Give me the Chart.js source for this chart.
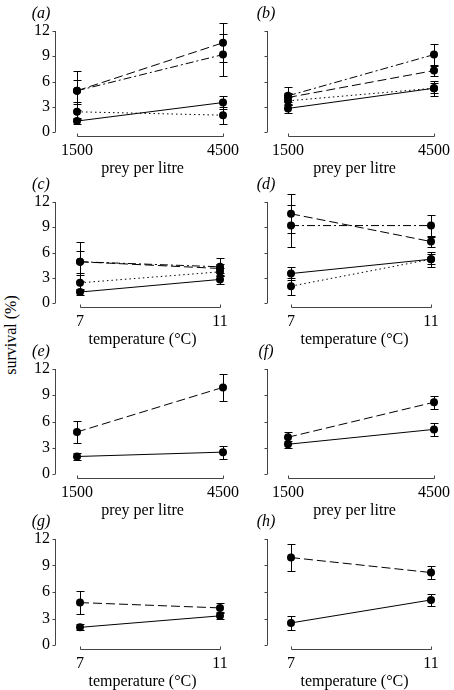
<!DOCTYPE html>
<html>
<head>
<meta charset="utf-8">
<script src="https://cdn.jsdelivr.net/npm/chart.js@4.4.1/dist/chart.umd.min.js"></script>
<style>
  html, body { margin: 0; padding: 0; background: #fff; }
  #wrap { position: relative; width: 454px; height: 690px; overflow: hidden; }
  canvas { position: absolute; }
  #ylab { position: absolute; left: 11px; top: 335px; transform: translate(-50%, -50%) rotate(-90deg);
          font: 16px 'Liberation Serif', serif; white-space: nowrap; color: #000; }
</style>
</head>
<body>
<div id="wrap">
  <div id="ylab">survival (%)</div>
</div>
<script>
// x levels and y ticks
const preyLevels = [1500, 4500];
const tempLevels = [7, 11];
const yTicks = [0, 3, 6, 9, 12];

// series order: solid, long dash, dash-dot, dotted
// (a) prey per litre at 7 C
const meanA = [[1.3, 3.5], [4.9, 10.6], [4.9, 9.2], [2.4, 2.0]];
const errA  = [[0.35, 0.8], [1.3, 2.3], [2.3, 2.5], [0.9, 1.0]];
// (b) prey per litre at 11 C
const meanB = [[2.8, 5.2], [4.1, 7.3], [4.3, 9.2], [3.7, 5.2]];
const errB  = [[0.5, 0.6], [0.5, 0.6], [1.1, 1.2], [0.5, 0.9]];
// (c) temperature at 1500 prey
const meanC = [[1.3, 2.8], [4.9, 4.1], [4.9, 4.3], [2.4, 3.7]];
const errC  = [[0.35, 0.5], [1.3, 0.5], [2.3, 1.1], [0.9, 0.5]];
// (d) temperature at 4500 prey
const meanD = [[3.5, 5.2], [10.6, 7.3], [9.2, 9.2], [2.0, 5.2]];
const errD  = [[0.8, 0.6], [2.3, 0.6], [2.5, 1.2], [1.0, 0.9]];
// (e)-(h): solid, long dash
const meanE = [[2.0, 2.5], [4.8, 9.9]];
const errE  = [[0.35, 0.75], [1.3, 1.55]];
const meanF = [[3.4, 5.1], [4.2, 8.2]];
const errF  = [[0.4, 0.7], [0.65, 0.75]];
const meanG = [[2.0, 3.3], [4.8, 4.2]];
const errG  = [[0.35, 0.4], [1.3, 0.6]];
const meanH = [[2.5, 5.1], [9.9, 8.2]];
const errH  = [[0.75, 0.7], [1.55, 0.75]];

const dashes = [[], [9, 4], [8, 3, 2, 3], [1.5, 3]];

Chart.defaults.font.family = "'Liberation Serif', 'Times New Roman', serif";
Chart.defaults.font.size = 16;
Chart.defaults.color = '#000';

// layout: pixel rows (y of 12 and 0) and columns
const rows = [
  { y12: 31, y0: 132 },
  { y12: 202, y0: 303 },
  { y12: 369, y0: 474 },
  { y12: 539, y0: 645 }
];
const cols = [
  { left: 0, width: 250, axis: 55, right: 230, tagDx: -14, labels: true,
    prey: [77, 223], temp: [80, 220] },
  { left: 230, width: 224, axis: 267, right: 442, tagDx: -1, labels: false,
    prey: [288, 434], temp: [291, 431] }
];

const panels = [
  { tag: 'a', row: 0, col: 0, xs: preyLevels, means: meanA, errs: errA, title: 'prey per litre' },
  { tag: 'b', row: 0, col: 1, xs: preyLevels, means: meanB, errs: errB, title: 'prey per litre' },
  { tag: 'c', row: 1, col: 0, xs: tempLevels, means: meanC, errs: errC, title: 'temperature (\u00B0C)' },
  { tag: 'd', row: 1, col: 1, xs: tempLevels, means: meanD, errs: errD, title: 'temperature (\u00B0C)' },
  { tag: 'e', row: 2, col: 0, xs: preyLevels, means: meanE, errs: errE, title: 'prey per litre' },
  { tag: 'f', row: 2, col: 1, xs: preyLevels, means: meanF, errs: errF, title: 'prey per litre' },
  { tag: 'g', row: 3, col: 0, xs: tempLevels, means: meanG, errs: errG, title: 'temperature (\u00B0C)' },
  { tag: 'h', row: 3, col: 1, xs: tempLevels, means: meanH, errs: errH, title: 'temperature (\u00B0C)' }
];

// error bars with caps, under the points
const errorBars = {
  id: 'errorBars',
  beforeDatasetsDraw(chart) {
    const ctx = chart.ctx, y = chart.scales.y;
    ctx.save();
    ctx.strokeStyle = '#000';
    ctx.lineWidth = 1;
    chart.data.datasets.forEach((ds, i) => {
      chart.getDatasetMeta(i).data.forEach((pt, j) => {
        const m = ds.data[j].y, e = ds.errs[j];
        const x = Math.round(pt.x) + 0.5;
        const top = Math.round(y.getPixelForValue(m + e)) + 0.5;
        const bot = Math.round(y.getPixelForValue(m - e)) + 0.5;
        ctx.beginPath();
        ctx.moveTo(x, top); ctx.lineTo(x, bot);
        ctx.moveTo(x - 4, top); ctx.lineTo(x + 4, top);
        ctx.moveTo(x - 4, bot); ctx.lineTo(x + 4, bot);
        ctx.stroke();
      });
    });
    ctx.restore();
  }
};

// range-frame axes and panel letter
const frame = {
  id: 'frame',
  afterDraw(chart) {
    const ctx = chart.ctx, x = chart.scales.x, y = chart.scales.y;
    const p = chart.options.plugins.frame;
    const ax = Math.round(chart.chartArea.left) + 0.5;
    ctx.save();
    ctx.strokeStyle = '#444';
    ctx.lineWidth = 1;
    ctx.beginPath();
    ctx.moveTo(ax, y.getPixelForValue(yTicks[0]));
    ctx.lineTo(ax, y.getPixelForValue(yTicks[yTicks.length - 1]));
    yTicks.forEach(v => {
      const py = Math.round(y.getPixelForValue(v)) + 0.5;
      ctx.moveTo(ax - 3, py); ctx.lineTo(ax, py);
    });
    const by = Math.round(y.getPixelForValue(0)) + 4.5;
    const x0 = Math.round(x.getPixelForValue(p.xs[0])) + 0.5;
    const x1 = Math.round(x.getPixelForValue(p.xs[1])) + 0.5;
    ctx.moveTo(x0, by); ctx.lineTo(x1, by);
    ctx.moveTo(x0, by); ctx.lineTo(x0, by - 3);
    ctx.moveTo(x1, by); ctx.lineTo(x1, by - 3);
    ctx.stroke();
    ctx.fillStyle = '#000';
    ctx.font = "italic 16px 'Liberation Serif', serif";
    ctx.textAlign = 'center';
    ctx.textBaseline = 'middle';
    ctx.fillText('(' + p.tag + ')', chart.chartArea.left + p.tagDx, 14);
    ctx.restore();
  }
};

const wrap = document.getElementById('wrap');

panels.forEach(p => {
  const r = rows[p.row], c = cols[p.col];
  const top = r.y12 - 31;
  const ppu = (r.y0 - r.y12) / 12;
  const bottomRel = r.y0 - top + 6;
  const xScaleH = 40;
  const height = bottomRel + xScaleH;
  const px = p.xs === preyLevels ? c.prey : c.temp;
  const unit = (px[1] - px[0]) / (p.xs[1] - p.xs[0]);

  const canvas = document.createElement('canvas');
  canvas.width = c.width;
  canvas.height = height;
  canvas.style.left = c.left + 'px';
  canvas.style.top = top + 'px';
  wrap.appendChild(canvas);

  new Chart(canvas, {
    type: 'line',
    data: {
      datasets: p.means.map((m, i) => ({
        data: p.xs.map((x, j) => ({ x: x, y: m[j] })),
        errs: p.errs[i],
        borderColor: '#000',
        borderWidth: 1,
        borderDash: dashes[i],
        pointRadius: 4,
        pointBackgroundColor: '#000',
        pointBorderWidth: 0,
        fill: false,
        tension: 0
      }))
    },
    options: {
      responsive: false,
      animation: false,
      devicePixelRatio: 1,
      layout: { padding: { left: 0, right: c.left + c.width - c.right, top: 22, bottom: 0 } },
      plugins: {
        legend: { display: false },
        tooltip: { enabled: false },
        frame: { tag: p.tag, tagDx: c.tagDx, xs: p.xs }
      },
      scales: {
        x: {
          type: 'linear',
          min: p.xs[0] - (px[0] - c.axis) / unit,
          max: p.xs[1] + (c.right - px[1]) / unit,
          afterBuildTicks: s => { s.ticks = p.xs.map(v => ({ value: v })); },
          afterFit: s => { s.height = xScaleH; },
          grid: { display: false, drawTicks: false },
          border: { display: false },
          ticks: { padding: 3, maxRotation: 0, callback: v => String(v) },
          title: { display: true, text: p.title, padding: { top: 0, bottom: 0 } }
        },
        y: {
          min: -6 / ppu,
          max: 12 + 9 / ppu,
          afterBuildTicks: s => { s.ticks = yTicks.map(v => ({ value: v })); },
          afterFit: s => { s.width = c.axis - c.left; },
          grid: { display: false, drawTicks: false },
          border: { display: false },
          ticks: { display: c.labels, padding: 5, callback: v => String(v) }
        }
      }
    },
    plugins: [errorBars, frame]
  });
});
</script>
</body>
</html>
